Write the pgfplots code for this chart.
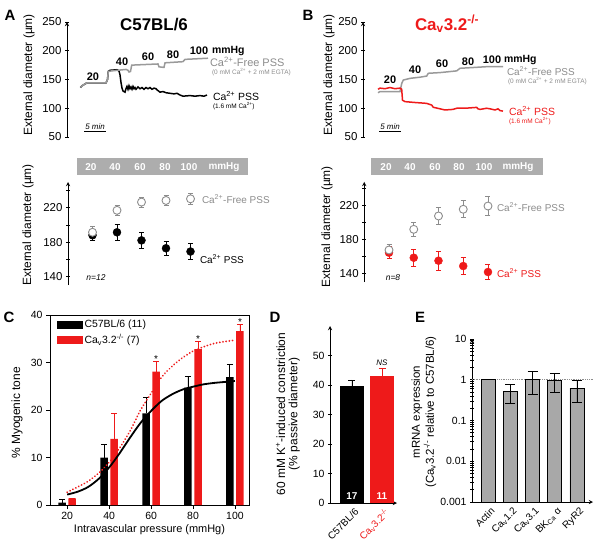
\documentclass[border=0pt]{standalone}
\usepackage{fontspec}
\setmainfont{Liberation Sans}
\usepackage{pgfplots}
\pgfplotsset{compat=1.18}
\definecolor{myred}{HTML}{EE1A1A}
\definecolor{pgray}{HTML}{9A9A9A}
\definecolor{tgray}{HTML}{8C8C8C}
\definecolor{bgray}{HTML}{A8A8A8}
\definecolor{bandg}{HTML}{ADADAD}
\newcommand{\fs}[2]{\fontsize{#1}{#2}\selectfont}
\newcommand{\Cap}{Ca\textsuperscript{2+}}
\newcommand{\CaV}{Ca\textsubscript{v}3.2\textsuperscript{-/-}}
\pgfplotsset{
 myaxis/.style={scale only axis, anchor=south west, axis line style={-, line width=0.9bp},
   tick style={black, line width=0.8bp}, major tick length=4bp, minor tick length=4bp,
   tick align=outside, /pgf/number format/assume math mode=true, clip=false},
}
\begin{document}
\begin{tikzpicture}[x=1bp,y=-1bp, lbl/.style={inner sep=0pt, outer sep=0pt}]
\useasboundingbox (0,0) rectangle (600,550);
\coordinate (At) at (67,137);
\coordinate (Bt) at (363,137);
\coordinate (Am) at (68,285);
\coordinate (Bm) at (364.25,282.2);
\coordinate (Cc) at (50,505);
\coordinate (Dd) at (330,503);
\coordinate (Ee) at (472,502);

% ---------- Panel A top ----------
\begin{axis}[myaxis, at={(At)}, width=230bp, height=115bp, xmin=67, xmax=297, ymin=50, ymax=250,
  axis x line=none, axis y line=left, ytick={50,100,...,250}, yticklabel style={font=\fs{11.5}{13}}]
\addplot[black, line width=1.5bp] coordinates {(80.5,136) (82,139) (86.7,144) (106,144) (107.5,150) (108.3,164) (110,166) (117,167) (119,165) (120,158) (121,145) (122,135) (123,130) (125,128) (126,134) (127,138) (128,133) (129,139) (130,134) (131,137) (132,133) (133,138) (134,134) (135,136) (136,133) (138,137) (140,134) (142,136) (144,133) (146,136) (148,134) (150,136) (152,133) (154,135) (156,134) (157,132) (160,128) (163,129) (166,127) (170,126) (174,125) (177,126) (180,123) (183,121) (190,122) (195,121) (200,122) (204,121) (207,123)};
\addplot[pgray, line width=1.5bp] coordinates {(80.5,136) (82,139) (86.7,144) (106,144) (107.5,150) (108.3,164) (112,165) (126,167.5) (128,166) (129,163) (130.5,164) (131.7,175) (158,177) (159,172) (164,171) (165,179) (183,181) (185,185) (208,187)};
\end{axis}
\node[lbl, rotate=90, font=\fs{12}{14}] at (29,75) {External diameter (µm)};
\node[lbl, font=\bfseries\fs{15}{17}] at (10,15) {A};
\node[lbl, font=\bfseries\fs{17}{20}] at (154,25) {C57BL/6};
\foreach \x/\y/\t in {93/77/20, 122/62/40, 148/57/60, 173/55/80, 199/51/100}
  \node[lbl, font=\bfseries\fs{11}{13}] at (\x,\y) {\t};
\node[lbl, anchor=west, font=\bfseries\fs{10.5}{12}] at (212,51) {mmHg};
\node[lbl, anchor=west, tgray, font=\fs{11}{13}] at (210,62) {\Cap-Free PSS};
\node[lbl, anchor=west, tgray, font=\fs{6.5}{8}] at (212,72) {(0 mM \Cap{} + 2 mM EGTA)};
\node[lbl, anchor=west, font=\fs{10.5}{12}] at (213,96) {\Cap{} PSS};
\node[lbl, anchor=west, font=\fs{6.5}{8}] at (213,106) {(1.6 mM \Cap)};
\node[lbl, font=\itshape\fs{8}{9}] at (95,127) {5 min};
\draw[line width=0.6bp] (84,131) -- (106,131);

% ---------- Panel B top ----------
\begin{axis}[myaxis, at={(Bt)}, width=230bp, height=115bp, xmin=363, xmax=593, ymin=50, ymax=250,
  axis x line=none, axis y line=left, ytick={50,100,...,250}, yticklabel style={font=\fs{11.5}{13}}]
\addplot[pgray, line width=1.5bp] coordinates {(378,127) (380,129) (400,128.8) (401.7,143) (403.3,149) (410,152) (420,154) (426.7,156) (428.3,160.8) (440,162) (456.7,165) (460,169.5) (475,171) (486.7,172.3) (503,172.3)};
\addplot[myred, line width=1.5bp] coordinates {(378,133) (380,135) (385,134) (390,136) (395,134) (400,135) (401.7,133) (402.5,114) (405,111.5) (415,110) (426.7,108.5) (431.7,105.5) (433.3,101.7) (440,99) (445,97) (453,98) (456.7,100) (465,100) (476.7,101.5) (478,99) (480,98) (486.7,100) (490,99) (495,97) (498,99) (500,96) (503,95)};
\end{axis}
\node[lbl, rotate=90, font=\fs{12}{14}] at (329,75) {External diameter (µm)};
\node[lbl, font=\bfseries\fs{15}{17}] at (308,15) {B};
\node[lbl, myred, font=\bfseries\fs{17}{20}] at (447,24) {\CaV};
\foreach \x/\y/\t in {390/80/20, 415/70/40, 442/64/60, 468/62/80, 492/60/100}
  \node[lbl, font=\bfseries\fs{11}{13}] at (\x,\y) {\t};
\node[lbl, anchor=west, font=\bfseries\fs{10.5}{12}] at (504,60) {mmHg};
\node[lbl, anchor=west, tgray, font=\fs{10}{12}] at (507,71) {\Cap-Free PSS};
\node[lbl, anchor=west, tgray, font=\fs{6.5}{8}] at (508,81) {(0 mM \Cap{} + 2 mM EGTA)};
\node[lbl, anchor=west, myred, font=\fs{10.5}{12}] at (509,111) {\Cap{} PSS};
\node[lbl, anchor=west, myred, font=\fs{6.5}{8}] at (509,121) {(1.6 mM \Cap)};
\node[lbl, font=\itshape\fs{8}{9}] at (390,127) {5 min};
\draw[line width=0.6bp] (379,131) -- (401,131);

% ---------- Panel A middle ----------
\fill[bandg] (77,158) rectangle (248,175);
\foreach \x/\t in {91/20, 115/40, 140/60, 165/80, 189/100, 224/mmHg}
  \node[lbl, white, font=\bfseries\fs{10}{12}] at (\x,167) {\t};
\begin{axis}[myaxis, at={(Am)}, width=181.3bp, height=103bp, xmin=0, xmax=148, ymin=130, ymax=250,
  axis x line=none, axis y line=left, ytick={140,180,220}, minor ytick={160,200,240},
  yticklabel style={font=\fs{11.5}{13}}]
\addplot[only marks, mark=*, mark size=4bp, black,
  error bars/.cd, y dir=both, y explicit, error bar style={black, line width=0.8bp},
  error mark options={rotate=90, black, mark size=2.5bp, line width=0.8bp}]
  table[x=x, y=y, y error=e] {
x y e
20 188 6
40 191.4 9
60 182 9
80 172.8 8
100 169 9
};
\addplot[only marks, mark=*, mark size=4bp, mark options={draw=tgray, fill=white, line width=0.9bp},
  error bars/.cd, y dir=both, y explicit, error bar style={tgray, line width=0.8bp},
  error mark options={rotate=90, tgray, mark size=2.5bp, line width=0.8bp}]
  table[x=x, y=y, y error=e] {
x y e
20 191.4 7
40 217 6
60 226.6 6
80 228.5 6
100 230.4 6
};
\end{axis}
\node[lbl, rotate=90, font=\fs{12}{14}] at (28,225) {External diameter (µm)};
\node[lbl, anchor=west, tgray, font=\fs{10}{12}] at (202,199) {\Cap-Free PSS};
\node[lbl, anchor=west, font=\fs{10}{12}] at (200,259) {\Cap{} PSS};
\node[lbl, font=\itshape\fs{8.5}{10}] at (96,278) {n=12};

% ---------- Panel B middle ----------
\fill[bandg] (371,158) rectangle (543,175);
\foreach \x/\t in {386/20, 410/40, 435/60, 459/80, 484/100, 518/mmHg}
  \node[lbl, white, font=\bfseries\fs{10}{12}] at (\x,167) {\t};
\begin{axis}[myaxis, at={(Bm)}, width=185.6bp, height=100.3bp, xmin=0, xmax=150, ymin=130, ymax=248,
  axis x line=none, axis y line=left, ytick={140,180,220}, minor ytick={160,200,240},
  yticklabel style={font=\fs{11.5}{13}}]
\addplot[only marks, mark=*, mark size=4bp, myred,
  error bars/.cd, y dir=both, y explicit, error bar style={myred, line width=0.8bp},
  error mark options={rotate=90, myred, mark size=2.5bp, line width=0.8bp}]
  table[x=x, y=y, y error=e] {
x y e
20 164.7 7
40 158.8 10
60 155.3 11
80 149 10
100 142 9
};
\addplot[only marks, mark=*, mark size=4bp, mark options={draw=tgray, fill=white, line width=0.9bp},
  error bars/.cd, y dir=both, y explicit, error bar style={tgray, line width=0.8bp},
  error mark options={rotate=90, tgray, mark size=2.5bp, line width=0.8bp}]
  table[x=x, y=y, y error=e] {
x y e
20 167.9 6
40 192.2 8
60 207.9 10
80 215.8 10
100 219.6 11
};
\end{axis}
\node[lbl, rotate=90, font=\fs{12}{14}] at (327,227) {External diameter (µm)};
\node[lbl, anchor=west, tgray, font=\fs{10}{12}] at (497,207) {\Cap-Free PSS};
\node[lbl, anchor=west, myred, font=\fs{10}{12}] at (497,273) {\Cap{} PSS};
\node[lbl, font=\itshape\fs{8.5}{10}] at (393,278) {n=8};

% ---------- Panel C ----------
\begin{axis}[myaxis, at={(Cc)}, width=199bp, height=190bp, xmin=11.8, xmax=106.7, ymin=0, ymax=40,
  tick pos=left, xtick={20,40,...,100}, ytick={0,10,...,40},
  ticklabel style={font=\fs{10.5}{12}},
  xlabel={Intravascular pressure (mmHg)}, xlabel style={font=\fs{11}{13}, yshift=2bp},
  legend style={at={(0.035,0.985)}, anchor=north west, draw=none, fill=none, inner sep=0pt,
    row sep=1.5bp, font=\fs{10.5}{12}, cells={anchor=west}},
  legend cell align=left]
\addlegendimage{legend image code/.code={\fill[black] (0bp,-3.5bp) rectangle (25bp,3.5bp);}}
\addlegendentry{C57BL/6 (11)}
\addlegendimage{legend image code/.code={\fill[myred] (0bp,-3.5bp) rectangle (25bp,3.5bp);}}
\addlegendentry{\CaV{} (7)}
\addplot[ybar, bar width=7.5bp, bar shift=0pt, fill=black, draw=none, forget plot,
  error bars/.cd, y dir=plus, y explicit, error bar style={black, line width=0.9bp},
  error mark options={rotate=90, black, mark size=3bp, line width=0.9bp}]
  table[x=x, y=y, y error=e] {
x y e
17.6 0.5 0.7
37.6 10.0 2.8
57.6 19.3 3.4
77.6 24.7 2.3
97.6 26.9 2.6
};
\addplot[ybar, bar width=7.5bp, bar shift=0pt, fill=myred, draw=none, forget plot,
  error bars/.cd, y dir=plus, y explicit, error bar style={myred, line width=0.9bp},
  error mark options={rotate=90, myred, mark size=3bp, line width=0.9bp}]
  table[x=x, y=y, y error=e] {
x y e
22.4 1.4 0.0
42.4 13.9 5.4
62.4 28.1 2.1
82.4 32.8 1.7
102.4 36.6 1.4
};
\addplot[black, line width=1.8bp, smooth, forget plot] coordinates {(20,2.2) (25,2.8) (30,3.8) (35,5.5) (40,7.9) (45,10.9) (50,14.2) (55,17.3) (60,19.8) (65,21.9) (70,23.3) (75,24.3) (80,24.9) (85,25.4) (90,25.7) (95,25.9) (100,26.1)};
\addplot[myred, line width=2bp, smooth, line cap=round, dash pattern=on 0.01bp off 3.2bp, forget plot] coordinates {(20,2.7) (25,3.8) (30,5.0) (35,6.7) (40,9.0) (45,12.0) (50,15.6) (55,20.0) (60,23.5) (65,26.9) (70,29.2) (75,31.0) (80,32.4) (85,33.3) (90,34.0) (95,34.4) (100,34.7)};
\node[lbl, font=\fs{10}{12}] at (axis cs:62.4,30.8) {*};
\node[lbl, font=\fs{10}{12}] at (axis cs:82.4,35.0) {*};
\node[lbl, font=\fs{10}{12}] at (axis cs:102.4,38.5) {*};
\end{axis}
\node[lbl, rotate=90, font=\fs{12}{14}] at (17,413) {\% Myogenic tone};
\node[lbl, font=\bfseries\fs{15}{17}] at (9,317) {C};

% ---------- Panel D ----------
\begin{axis}[myaxis, at={(Dd)}, width=67bp, height=177bp, xmin=-0.733, xmax=1.5, ymin=0, ymax=60,
  axis x line=bottom, axis y line=left, ytick={0,10,...,50}, xtick={0,1},
  xticklabels={C57BL/6, {\color{myred}\CaV}},
  xtick style={draw=none},
  yticklabel style={font=\fs{10.5}{12}},
  xticklabel style={rotate=45, anchor=north east, font=\fs{10}{12}, xshift=3bp}]
\addplot[ybar, bar width=24bp, bar shift=0pt, fill=black, draw=none,
  error bars/.cd, y dir=plus, y explicit, error bar style={black, line width=0.9bp},
  error mark options={rotate=90, black, mark size=3.5bp, line width=0.9bp}]
  coordinates {(0,39.7) +- (0,2.0)};
\addplot[ybar, bar width=24bp, bar shift=0pt, fill=myred, draw=none,
  error bars/.cd, y dir=plus, y explicit, error bar style={myred, line width=0.9bp},
  error mark options={rotate=90, myred, mark size=3.5bp, line width=0.9bp}]
  coordinates {(1,43.1) +- (0,2.6)};
\node[lbl, white, font=\bfseries\fs{10}{12}] at (axis cs:0,2.3) {17};
\node[lbl, white, font=\bfseries\fs{10}{12}] at (axis cs:1,2.3) {11};
\node[lbl, font=\itshape\fs{8}{10}] at (axis cs:1,47.5) {NS};
\end{axis}
\node[lbl, rotate=90, align=center, font=\fs{12}{12.5}] at (288,414) {60 mM K\textsuperscript{+}-induced constriction\\(\% passive diameter)};
\node[lbl, font=\bfseries\fs{15}{17}] at (275,317) {D};

% ---------- Panel E ----------
\begin{axis}[myaxis, at={(Ee)}, width=121bp, height=163bp, xmin=-0.72, xmax=4.72,
  ymode=log, ymin=0.001, ymax=10, log origin=infty,
  axis x line=bottom, axis y line=left,
  ytick={0.001,0.01,0.1,1,10}, yticklabels={0.001,0.01,0.1,1,10}, minor ytick={},
  xtick={0,1,2,3,4},
  xticklabels={Actin, Ca\textsubscript{v}1.2, Ca\textsubscript{v}3.1, BK\textsubscript{Ca} α, RyR2},
  xtick style={draw=none},
  yticklabel style={font=\fs{10.5}{12}},
  xticklabel style={rotate=45, anchor=north east, font=\fs{10}{12}, xshift=3bp}]
\addplot[densely dotted, tgray, line width=0.8bp] coordinates {(-0.72,1) (4.72,1)};
\addplot[ybar, bar width=14bp, bar shift=0pt, fill=bgray, draw=black, line width=0.9bp]
  coordinates {(0,1.0)};
\addplot[ybar, bar width=14bp, bar shift=0pt, fill=bgray, draw=black, line width=0.9bp,
  error bars/.cd, y dir=both, y explicit, error bar style={black, line width=0.9bp},
  error mark options={rotate=90, black, mark size=5bp, line width=0.9bp}]
  table[x=x, y=y, y error plus=ep, y error minus=em] {
x y ep em
1 0.52 0.23 0.26
2 1.0 0.6 0.56
3 0.95 0.45 0.45
4 0.62 0.34 0.34
};
\end{axis}
\node[lbl, rotate=90, align=center, font=\fs{11.5}{14}] at (424,412) {mRNA expression\\(\CaV{} relative to C57BL/6)};
\node[lbl, font=\bfseries\fs{15}{17}] at (420,317) {E};
\end{tikzpicture}
\end{document}
